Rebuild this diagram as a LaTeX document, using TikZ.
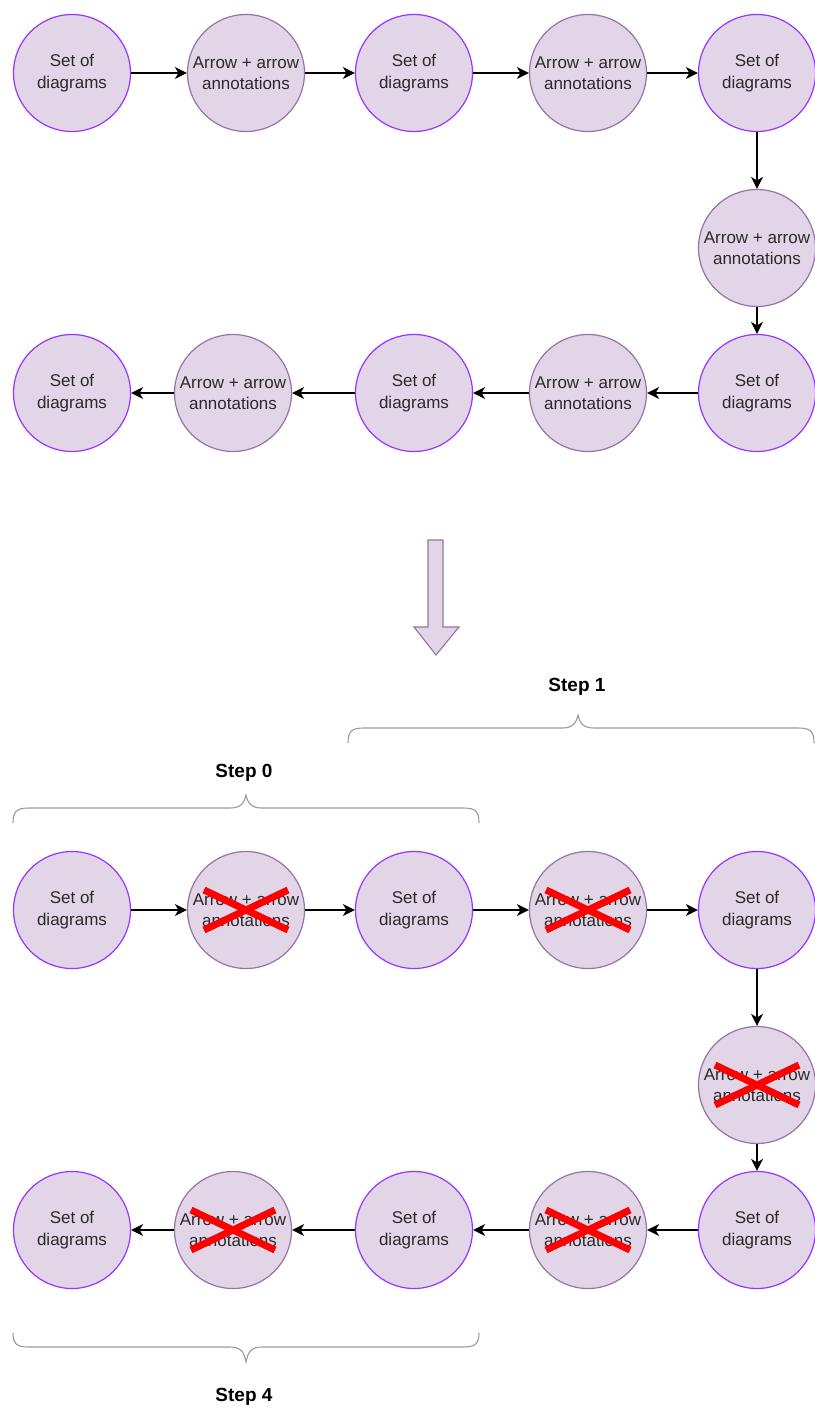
\documentclass[tikz,border=0pt]{standalone}
\usepackage{fontspec}
\setmainfont{Liberation Sans}
\usetikzlibrary{arrows.meta}
\definecolor{cfill}{HTML}{E1D5E7}
\definecolor{cstroke}{HTML}{9673A6}
\definecolor{sstroke}{HTML}{9933FF}
\definecolor{txt}{HTML}{2A2A2A}
\definecolor{bracecol}{HTML}{9A9A9A}
\tikzset{
  circ/.style={circle, fill=cfill, line width=1.2pt, minimum size=117pt, inner sep=0pt, align=center,
    font=\fontsize{17}{21.5}\selectfont, text=txt},
  setnode/.style={circ, draw=sstroke},
  arrnode/.style={circ, draw=cstroke},
  conn/.style={draw=black, line width=1.3pt, -{Stealth[length=12pt,width=12pt,inset=3.5pt]}},
  redx/.style={draw=red, line width=7pt},
  bracestyle/.style={draw=bracecol, line width=1.1pt},
  steplabel/.style={font=\fontsize{19}{22}\selectfont\bfseries, text=black, inner sep=0pt},
}
\newcommand{\mychain}[2]{%
  \node[setnode] (#1n1) at (72,{73+#2}) {Set of\\diagrams};
  \node[arrnode] (#1n2) at (246,{73+#2}) {Arrow + arrow\\annotations};
  \node[setnode] (#1n3) at (414,{73+#2}) {Set of\\diagrams};
  \node[arrnode] (#1n4) at (588,{73+#2}) {Arrow + arrow\\annotations};
  \node[setnode] (#1n5) at (757,{73+#2}) {Set of\\diagrams};
  \node[arrnode] (#1n6) at (757,{248+#2}) {Arrow + arrow\\annotations};
  \node[setnode] (#1n7) at (757,{393+#2}) {Set of\\diagrams};
  \node[arrnode] (#1n8) at (588,{393+#2}) {Arrow + arrow\\annotations};
  \node[setnode] (#1n9) at (414,{393+#2}) {Set of\\diagrams};
  \node[arrnode] (#1n10) at (233,{393+#2}) {Arrow + arrow\\annotations};
  \node[setnode] (#1n11) at (72,{393+#2}) {Set of\\diagrams};
  \path[conn] (#1n1) -- (#1n2);
  \path[conn] (#1n2) -- (#1n3);
  \path[conn] (#1n3) -- (#1n4);
  \path[conn] (#1n4) -- (#1n5);
  \path[conn] (#1n5) -- (#1n6);
  \path[conn] (#1n6) -- (#1n7);
  \path[conn] (#1n7) -- (#1n8);
  \path[conn] (#1n8) -- (#1n9);
  \path[conn] (#1n9) -- (#1n10);
  \path[conn] (#1n10) -- (#1n11);
}
\newcommand{\redcross}[1]{%
  \path[redx] ([shift={(-42,-20)}]#1.center) -- ([shift={(42,20)}]#1.center);
  \path[redx] ([shift={(-42,20)}]#1.center) -- ([shift={(42,-20)}]#1.center);
}
\begin{document}
\begin{tikzpicture}[x=1pt,y=-1pt]
\useasboundingbox (0,0) rectangle (814,1410);
\fill[white] (0,0) rectangle (814,1410);
% top chain
\mychain{a}{0}
% big arrow
\path[fill=cfill, draw=cstroke, line width=1.1pt, line join=miter]
  (428,540) -- (443,540) -- (443,627) -- (459,627) -- (436,655) -- (414,627) -- (428,627) -- cycle;
% bottom chain
\mychain{b}{837}
\redcross{bn2}
\redcross{bn4}
\redcross{bn6}
\redcross{bn8}
\redcross{bn10}
% braces
\coordinate (s1tip) at (578,715);
\path[bracestyle] (348,743) .. controls (348,731) and (352,728) .. (364,728) -- (562,728)
  .. controls (572,728) and (576,724) .. (s1tip) .. controls (580,724) and (584,728) .. (594,728)
  -- (798,728) .. controls (810,728) and (814,731) .. (814,743);
\node[steplabel] (s1) at (577,687) {Step 1};
\coordinate (s0tip) at (246,795);
\path[bracestyle] (13,823) .. controls (13,811) and (17,808) .. (29,808) -- (230,808)
  .. controls (240,808) and (244,804) .. (s0tip) .. controls (248,804) and (252,808) .. (262,808)
  -- (463,808) .. controls (475,808) and (479,811) .. (479,823);
\node[steplabel] (s0) at (244,773) {Step 0};
\coordinate (s4tip) at (246,1362);
\path[bracestyle] (13,1333) .. controls (13,1344) and (17,1347) .. (29,1347) -- (230,1347)
  .. controls (240,1347) and (244,1351) .. (s4tip) .. controls (248,1351) and (252,1347) .. (262,1347)
  -- (463,1347) .. controls (475,1347) and (479,1344) .. (479,1333);
\node[steplabel] (s4) at (244,1397) {Step 4};
\end{tikzpicture}
\end{document}
